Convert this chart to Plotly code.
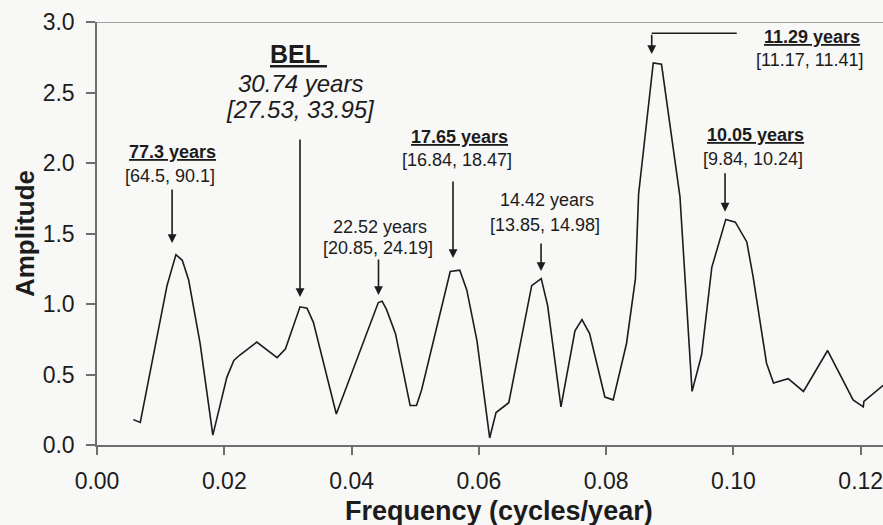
import plotly.graph_objects as go

# Spectrum data (frequency in cycles/year, amplitude)
freq = [0.0057, 0.0068, 0.0110, 0.0124, 0.0134, 0.0144, 0.0162, 0.0182, 0.0204, 0.0215,
        0.0225, 0.0251, 0.0283, 0.0296, 0.0319, 0.0330, 0.0340, 0.0376, 0.0442, 0.0448,
        0.0455, 0.0469, 0.0492, 0.0502, 0.0510, 0.0555, 0.0570, 0.0581, 0.0597, 0.0617,
        0.0627, 0.0647, 0.0683, 0.0698, 0.0708, 0.0729, 0.0751, 0.0762, 0.0774, 0.0798,
        0.0811, 0.0832, 0.0846, 0.0851, 0.0874, 0.0887, 0.0916, 0.0935, 0.0950, 0.0966,
        0.0988, 0.1003, 0.1021, 0.1031, 0.1052, 0.1063, 0.1086, 0.1110, 0.1148, 0.1188,
        0.1204, 0.1205, 0.1240]
amplitude = [0.18, 0.16, 1.13, 1.35, 1.31, 1.17, 0.72, 0.07, 0.48, 0.60,
             0.64, 0.73, 0.62, 0.68, 0.98, 0.97, 0.87, 0.22, 1.01, 1.02,
             0.96, 0.79, 0.28, 0.28, 0.39, 1.23, 1.24, 1.10, 0.74, 0.05,
             0.23, 0.30, 1.13, 1.18, 0.99, 0.27, 0.81, 0.89, 0.79, 0.34,
             0.32, 0.72, 1.18, 1.78, 2.71, 2.70, 1.76, 0.38, 0.64, 1.26,
             1.60, 1.58, 1.44, 1.19, 0.58, 0.44, 0.47, 0.38, 0.67, 0.32,
             0.27, 0.31, 0.44]

x_ticks = [0.00, 0.02, 0.04, 0.06, 0.08, 0.10, 0.12]
x_tick_labels = ["0.00", "0.02", "0.04", "0.06", "0.08", "0.10", "0.12"]
y_ticks = [0.0, 0.5, 1.0, 1.5, 2.0, 2.5, 3.0]
y_tick_labels = ["0.0", "0.5", "1.0", "1.5", "2.0", "2.5", "3.0"]
x_title = "Frequency (cycles/year)"
y_title = "Amplitude"

# Peak labels
peak_titles = ["77.3 years", "22.52 years", "17.65 years", "14.42 years", "11.29 years", "10.05 years"]
peak_intervals = ["[64.5, 90.1]", "[20.85, 24.19]", "[16.84, 18.47]", "[13.85, 14.98]",
                  "[11.17, 11.41]", "[9.84, 10.24]"]
peak_bold = [True, False, True, False, True, True]
bel_title = "BEL"
bel_period = "30.74 years"
bel_interval = "[27.53, 33.95]"

FONT = "Liberation Sans, Arial, sans-serif"
INK = "#1c1c1c"
AXC = "#6e6e6e"
SMALL = 18

fig = go.Figure()
fig.add_trace(go.Scatter(x=freq, y=amplitude, mode="lines",
                         line=dict(color=INK, width=1.6), showlegend=False,
                         hoverinfo="skip"))

# label layout (text x, title y, interval y, arrow x, arrow tail y, arrow tip y)
label_pos = [
    (0.01179, 2.078, 1.908, 0.0118, 1.823, 1.433),
    (0.04447, 1.546, 1.397, 0.04423, 1.326, 1.064),
    (0.05688, 2.184, 2.021, 0.05594, 1.879, 1.326),
    (0.07071, 1.738, 1.560, 0.06977, 1.440, 1.234),
    (0.1123, 2.894, 2.730, 0.08716, 2.920, 2.773),
    (0.1034, 2.199, 2.028, 0.09868, 1.938, 1.655),
]

ann = []
for title, interval, bold, pos in zip(peak_titles, peak_intervals, peak_bold, label_pos):
    tx, ty, iy, axx, tail, tip = pos
    ttext = f"<b><u>{title}</u></b>" if bold else title
    ann.append(dict(x=tx, y=ty, xref="x", yref="y", text=ttext, showarrow=False,
                    font=dict(family=FONT, size=SMALL, color=INK), xanchor="center", yanchor="middle"))
    ann.append(dict(x=tx - 0.0003, y=iy, xref="x", yref="y", text=interval, showarrow=False,
                    font=dict(family=FONT, size=SMALL, color=INK), xanchor="center", yanchor="middle"))
    ann.append(dict(x=axx, y=tip, ax=axx, ay=tail, xref="x", yref="y", axref="x", ayref="y",
                    text="", showarrow=True, arrowhead=2, arrowsize=1.1, arrowwidth=1.6,
                    arrowcolor=INK, standoff=0))

# BEL labels
ann.append(dict(x=0.0316, y=2.773, xref="x", yref="y", text=f"<b><u>{bel_title}&nbsp;</u></b>",
                showarrow=False, font=dict(family=FONT, size=25, color=INK)))
ann.append(dict(x=0.0319, y=2.567, xref="x", yref="y", text=f"<i>{bel_period}</i>",
                showarrow=False, font=dict(family=FONT, size=24, color=INK)))
ann.append(dict(x=0.0320, y=2.376, xref="x", yref="y", text=f"<i>{bel_interval}</i>",
                showarrow=False, font=dict(family=FONT, size=24, color=INK)))
ann.append(dict(x=0.0319, y=1.05, ax=0.0319, ay=2.177, xref="x", yref="y", axref="x", ayref="y",
                text="", showarrow=True, arrowhead=2, arrowsize=1.1, arrowwidth=1.6,
                arrowcolor=INK, standoff=0))

# x-axis title (placed as annotation; the original plot area continues past the crop)
ann.append(dict(x=0.511, y=-0.155, xref="paper", yref="paper", text=f"<b>{x_title}</b>",
                showarrow=False, xanchor="center", yanchor="middle",
                font=dict(family=FONT, size=27, color=INK)))

shapes = [
    dict(type="line", xref="paper", yref="y", x0=0, x1=1, y0=3.0, y1=3.0,
         line=dict(color="#8a8a8a", width=1.5)),
    dict(type="line", xref="x", yref="y", x0=0.08716, x1=0.10052, y0=2.920, y1=2.920,
         line=dict(color=INK, width=1.6)),
]

fig.update_layout(
    width=883, height=525,
    margin=dict(l=97, r=0, t=22, b=80, autoexpand=False),
    paper_bgcolor="#f8f8f7", plot_bgcolor="#f8f8f7",
    font=dict(family=FONT, color=INK),
    annotations=ann, shapes=shapes,
    xaxis=dict(range=[0, 0.1235], tickvals=x_ticks, ticktext=x_tick_labels,
               automargin=False, ticklabeloverflow="allow",
               showgrid=False, zeroline=False, showline=True, linecolor=AXC, linewidth=1.5,
               ticks="outside", ticklen=8, tickcolor=AXC, tickwidth=1.5,
               tickfont=dict(size=23, color=INK, family=FONT), ticklabelstandoff=7),
    yaxis=dict(range=[0, 3.0], tickvals=y_ticks, ticktext=y_tick_labels,
               automargin=False,
               showgrid=False, zeroline=False, showline=True, linecolor=AXC, linewidth=1.5,
               ticks="outside", ticklen=9, tickcolor=AXC, tickwidth=1.5,
               tickfont=dict(size=23, color=INK, family=FONT), ticklabelstandoff=7,
               title=dict(text=f"<b>{y_title}</b>", font=dict(size=26, color=INK), standoff=1)),
)

fig.write_html("out.html", config={"displayModeBar": False},
               post_script="document.body.style.margin='0';document.body.style.overflow='hidden';")
